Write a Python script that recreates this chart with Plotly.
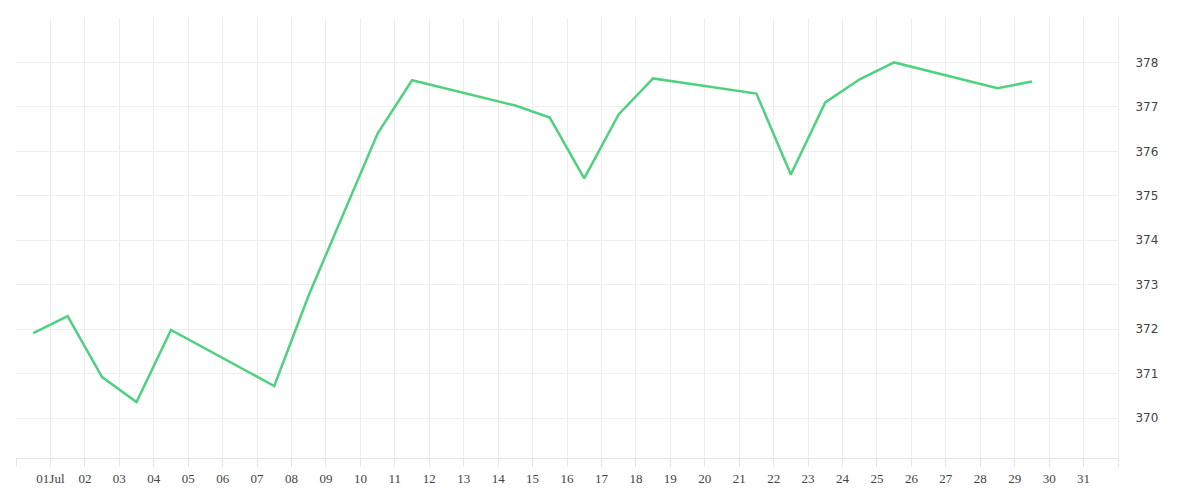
import plotly.graph_objects as go

dates = ["2024-06-30 12:00","2024-07-01 12:00","2024-07-02 12:00","2024-07-03 12:00","2024-07-04 12:00",
         "2024-07-07 12:00","2024-07-08 12:00","2024-07-09 12:00","2024-07-10 12:00","2024-07-11 12:00",
         "2024-07-14 12:00","2024-07-15 12:00","2024-07-16 12:00","2024-07-17 12:00","2024-07-18 12:00",
         "2024-07-21 12:00","2024-07-22 12:00","2024-07-23 12:00","2024-07-24 12:00","2024-07-25 12:00",
         "2024-07-28 12:00","2024-07-29 12:00"]
values = [371.91,372.29,370.92,370.36,371.98,
          370.72,372.76,374.56,376.40,377.60,
          377.03,376.76,375.39,376.83,377.64,
          377.30,375.48,377.10,377.62,378.00,
          377.42,377.57]

tick_dates = ["2024-06-30"] + [f"2024-07-{d:02d}" for d in range(1, 32)] + ["2024-08-01"]
tick_text = [""] + ["01Jul"] + [f"{d:02d}" for d in range(2, 32)] + [""]
y_ticks = list(range(369, 380))
y_text = [""] + [str(v) for v in range(370, 379)] + [""]

fig = go.Figure(go.Scatter(x=dates, y=values, mode="lines",
                           line=dict(color="#4fd27f", width=2.5)))
fig.update_layout(
    width=1200, height=500, margin=dict(l=8, r=90, t=10, b=50),
    plot_bgcolor="white", paper_bgcolor="white", showlegend=False,
    xaxis=dict(range=["2024-06-30", "2024-08-01"], tickvals=tick_dates, ticktext=tick_text,
               showgrid=True, gridcolor="#eeeeee", ticks="outside", ticklen=8, tickcolor="#e6e6e6",
               showline=True, linecolor="#e6e6e6", zeroline=False,
               tickfont=dict(family="Liberation Serif", size=13, color="#444")),
    yaxis=dict(side="right", range=[369.1, 379.0], tickvals=y_ticks, ticktext=y_text,
               showgrid=True, gridcolor="#eeeeee", zeroline=False, showline=True, linecolor="#eeeeee",
               ticklabelstandoff=14,
               tickfont=dict(family="DejaVu Sans", size=12, color="#444")),
)
fig.write_html("out.html")
